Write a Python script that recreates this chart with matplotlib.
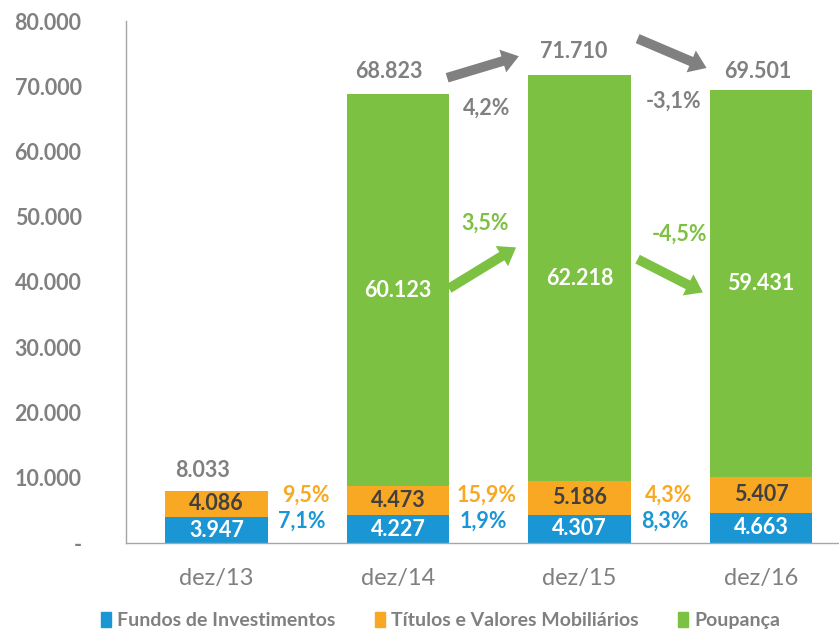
import matplotlib
matplotlib.use("Agg")
import matplotlib.pyplot as plt
from matplotlib.patches import FancyArrowPatch
from matplotlib.patches import Patch

plt.rcParams["font.family"] = ["Lato", "DejaVu Sans"]

# ─── Data ─────────────────────────────────────────────────────────────────────
periods  = ["dez/13", "dez/14", "dez/15", "dez/16"]
fundos   = [3947, 4227, 4307, 4663]
titulos  = [4086, 4473, 5186, 5407]
poupanca = [0, 60123, 62218, 59431]
totais   = [8033, 68823, 71710, 69501]

pct_fundos   = ["7,1%", "1,9%", "8,3%"]
pct_titulos  = ["9,5%", "15,9%", "4,3%"]
pct_poupanca = ["3,5%", "-4,5%"]
pct_total    = ["4,2%", "-3,1%"]

yticks      = [0, 10000, 20000, 30000, 40000, 50000, 60000, 70000, 80000]
ytick_names = ["-", "10.000", "20.000", "30.000", "40.000", "50.000",
               "60.000", "70.000", "80.000"]

# ─── Colours ──────────────────────────────────────────────────────────────────
BLUE   = "#1A96D4"
ORANGE = "#F9A823"
GREEN  = "#7DC142"
GRAY   = "#808080"
DARK   = "#404040"


def fmt(v):
    return f"{v:,}".replace(",", ".")


fig = plt.figure(figsize=(8.39, 6.33), dpi=100)
ax = fig.add_axes([126 / 839, 1 - 543 / 633, 713 / 839, 522 / 633])

x = list(range(len(periods)))
w = 0.566
ax.bar(x, fundos, w, color=BLUE, label="Fundos de Investimentos")
ax.bar(x, titulos, w, bottom=fundos, color=ORANGE, label="Títulos e Valores Mobiliários")
bottoms = [a + b for a, b in zip(fundos, titulos)]
ax.bar(x, poupanca, w, bottom=bottoms, color=GREEN, label="Poupança")

ax.set_xlim(-0.5, 3.43)
ax.set_ylim(0, 80000)
ax.set_yticks(yticks)
ax.set_yticklabels(ytick_names, fontsize=15.5, fontweight="bold", color=GRAY)
ax.set_xticks(x)
ax.set_xticklabels(periods, fontsize=17, color=GRAY)
ax.tick_params(length=0)
ax.tick_params(axis="x", pad=18)
ax.tick_params(axis="y", pad=32)
for s in ("top", "right"):
    ax.spines[s].set_visible(False)
for s in ("left", "bottom"):
    ax.spines[s].set_color("#A6A6A6")
    ax.spines[s].set_linewidth(1.0)

# segment labels
for i in x:
    ax.text(i, fundos[i] / 2, fmt(fundos[i]), ha="center", va="center",
            fontsize=15.5, fontweight="bold", color="white")
    ax.text(i, fundos[i] + titulos[i] / 2, fmt(titulos[i]), ha="center", va="center",
            fontsize=15.5, fontweight="bold", color=DARK)
    if poupanca[i]:
        ax.text(i, bottoms[i] + poupanca[i] / 2, fmt(poupanca[i]), ha="center",
                va="center", fontsize=15.5, fontweight="bold", color="white")

# totals
total_dx = [-0.08, -0.05, -0.03, -0.02]
total_dy = [3100, 3400, 3600, 2800]
for i in x:
    ax.text(i + total_dx[i], totais[i] + total_dy[i], fmt(totais[i]), ha="center",
            va="center", fontsize=15.5, fontweight="bold", color=GRAY)

# growth rates between bars
for k in range(3):
    xm = k + 0.5 - 0.03
    ax.text(xm, 3300, pct_fundos[k], ha="center", va="center",
            fontsize=15.5, fontweight="bold", color=BLUE)
    ax.text(xm + 0.02, 7300, pct_titulos[k], ha="center", va="center",
            fontsize=15.5, fontweight="bold", color=ORANGE)

green_pos = [(1.48, 49000), (2.55, 47400)]
for (gx, gy), t in zip(green_pos, pct_poupanca):
    ax.text(gx, gy, t, ha="center", va="center",
            fontsize=15.5, fontweight="bold", color=GREEN)

gray_pos = [(1.49, 66700), (2.52, 67700)]
for (gx, gy), t in zip(gray_pos, pct_total):
    ax.text(gx, gy, t, ha="center", va="center",
            fontsize=15.5, fontweight="bold", color=GRAY)

# arrows
arrows = [
    ((1.27, 71300), (1.665, 74600), GRAY),
    ((2.32, 77300), (2.70, 72800), GRAY),
    ((1.28, 39000), (1.65, 45300), GREEN),
    ((2.32, 43500), (2.68, 38400), GREEN),
]
for p0, p1, c in arrows:
    ax.add_patch(FancyArrowPatch(
        p0, p1, arrowstyle="simple,head_length=12,head_width=17,tail_width=7",
        mutation_scale=1, color=c, lw=0, shrinkA=0, shrinkB=0, zorder=4))

handles = [Patch(color=BLUE), Patch(color=ORANGE), Patch(color=GREEN)]
names = ["Fundos de Investimentos", "Títulos e Valores Mobiliários", "Poupança"]
leg = fig.legend(handles, names, loc="lower center", bbox_to_anchor=(0.525, -0.022),
                 ncol=3, frameon=False, handlelength=0.55, handleheight=0.8,
                 handletextpad=0.3, columnspacing=2.0,
                 prop={"size": 14, "weight": "bold"})
for t in leg.get_texts():
    t.set_color(GRAY)

fig.savefig("out.png", dpi=100)
